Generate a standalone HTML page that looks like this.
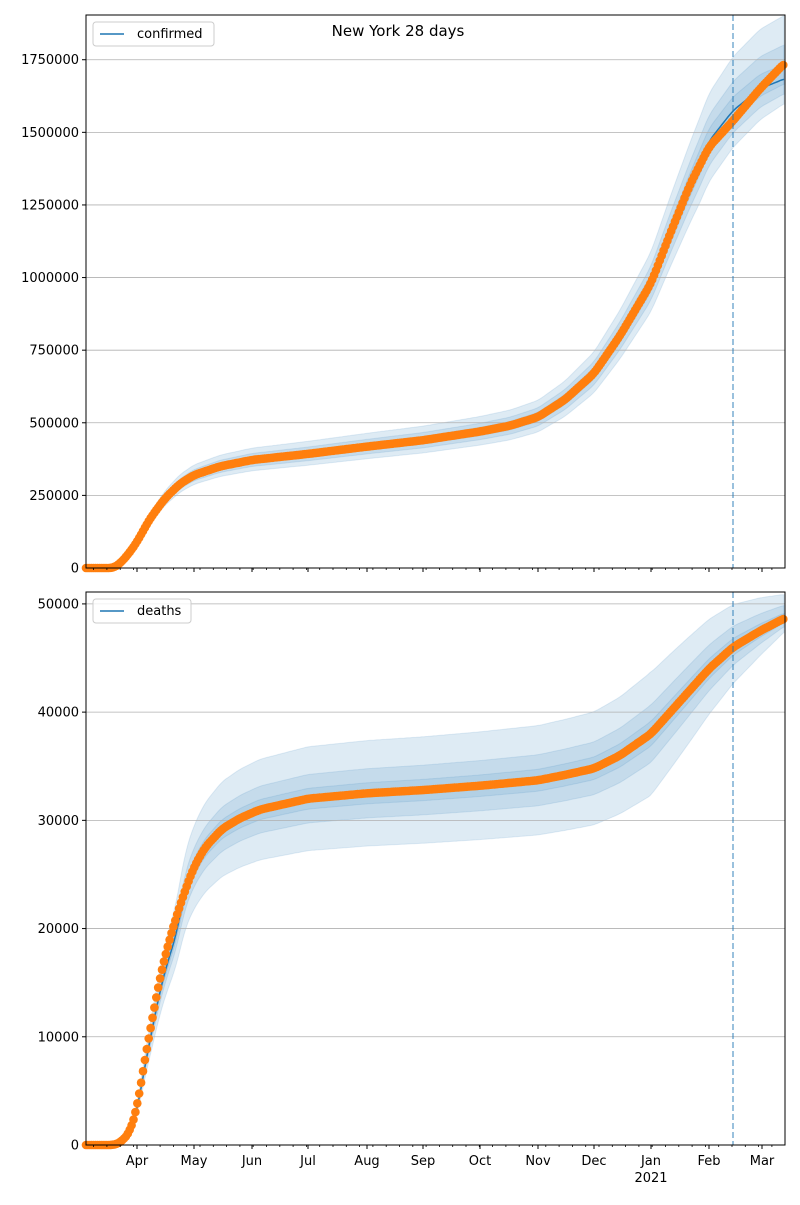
<!DOCTYPE html>
<html><head><meta charset="utf-8"><style>
body{margin:0;background:#fff}
svg text{font-family:"DejaVu Sans","Liberation Sans",sans-serif;font-size:13px;fill:#000}
</style></head><body>
<svg id="s" width="800" height="1200" xmlns="http://www.w3.org/2000/svg"></svg>
<script>
const S=document.getElementById('s');let h='';
function interp(pts,x){for(let i=1;i<pts.length;i++){if(x<=pts[i][0]){const a=pts[i-1],b=pts[i];const f=(x-a[0])/(b[0]-a[0]);return a[1]+(b[1]-a[1])*f;}}return pts[pts.length-1][1];}
function smooth(pts,x){let s=0,n=0;for(let d=-4;d<=4;d+=2){s+=interp(pts,Math.min(785,Math.max(86,x+d)));n++;}return s/n;}
function panel(top,bot,max,ticks,data,model,bandf,label,legW){
 const Y=v=>bot-(v/max)*(bot-top);
 const cols=[[bandf[0],0.11],[bandf[1],0.13],[bandf[2],0.15]];
 for(const [bf,op] of cols){let up='',lo='';
  for(let x=86;x<=785;x+=2){const m=smooth(model,x);const w=bf(x);up+=(up?'L':'M')+x+','+Y(m*(1+w[1])).toFixed(1);lo='L'+x+','+Y(m*(1-w[0])).toFixed(1)+lo;}
  h+=`<path d="${up}${lo}Z" fill="#1f77b4" fill-opacity="${op}" stroke="#1f77b4" stroke-opacity="0.12"/>`;}
 for(const t of ticks){const y=Y(t);h+=`<line x1="86" x2="785" y1="${y}" y2="${y}" stroke="#b0b0b0" stroke-width="0.8"/><line x1="82" x2="86" y1="${y}" y2="${y}" stroke="#000"/><text x="79" y="${y+4.5}" text-anchor="end">${t}</text>`;}
 let p='';for(let x=86;x<=785;x+=2){p+=(p?'L':'M')+x+','+Y(smooth(model,x)).toFixed(1);}
 h+=`<path d="${p}" fill="none" stroke="#1f77b4" stroke-width="1.5"/>`;
 for(let x=86;x<=785;x+=1.9){h+=`<circle cx="${x.toFixed(1)}" cy="${Y(smooth(data,x)).toFixed(1)}" r="4.3" fill="#ff7f0e"/>`;}
 h+=`<line x1="733" x2="733" y1="${top}" y2="${bot}" stroke="#1f77b4" stroke-opacity="0.6" stroke-width="1.5" stroke-dasharray="6,3"/>`;
 const months=[137,194,252,308,367,423,480,538,594,651,709,762];
 for(let x=86+7.6;x<785;x+=13.3)h+=`<line x1="${x.toFixed(1)}" x2="${x.toFixed(1)}" y1="${bot}" y2="${bot+2}" stroke="#000" stroke-width="0.8"/>`;
 for(const x of months)h+=`<line x1="${x}" x2="${x}" y1="${bot}" y2="${bot+4}" stroke="#000"/>`;
 h+=`<rect x="86" y="${top}" width="699" height="${bot-top}" fill="none" stroke="#000" stroke-width="1"/>`;
 h+=`<rect x="93" y="${top+7}" width="${legW}" height="24" rx="3" fill="#fff" fill-opacity="0.8" stroke="#ccc"/><line x1="100" x2="124" y1="${top+19}" y2="${top+19}" stroke="#1f77b4" stroke-width="1.5"/><text x="137" y="${top+23}">${label}</text>`;
}
const conf=[[86,0],[113,0],[120,15e3],[130,55e3],[137,90e3],[150,170e3],[165,240e3],[180,290e3],[194,320e3],[220,350e3],[252,372e3],[308,393e3],[367,418e3],[423,440e3],[480,470e3],[510,490e3],[538,520e3],[565,580e3],[594,670e3],[620,800e3],[651,980e3],[670,1150e3],[690,1320e3],[709,1450e3],[733,1540e3],[760,1650e3],[785,1740e3]];
const confM=conf.slice(0,23).concat([[709,1470e3],[733,1575e3],[760,1650e3],[785,1685e3]]);
const ce=(a,b,x)=>x<700?a:a+(b-a)*(x-700)/85;
panel(15,568,1904000,[0,250000,500000,750000,1000000,1250000,1500000,1750000],conf,confM,
 [x=>[ce(0.03,0.01,x),ce(0.03,0.03,x)],x=>[ce(0.06,0.03,x),ce(0.06,0.07,x)],x=>[ce(0.1,0.05,x),ce(0.11,0.13,x)]],'confirmed',121);
const dth=[[86,0],[113,0],[120,200],[130,1200],[137,3400],[145,8000],[152,11500],[160,15500],[168,18500],[176,21000],[185,23500],[194,25700],[205,27500],[222,29200],[240,30200],[260,31000],[308,32000],[367,32500],[423,32800],[480,33200],[538,33700],[565,34200],[594,34800],[620,36000],[651,38000],[680,41000],[709,44000],[733,46000],[760,47500],[785,48700]];
const dthM=dth.map(p=>p[0]>=130&&p[0]<=176?[p[0],p[1]*0.92]:p);
const taper=(a,b,x)=>x<650?a:a+(b-a)*(x-650)/135;
panel(592,1145,51100,[0,10000,20000,30000,40000,50000],dth,dthM,
 [x=>[taper(0.03,0.008,x),taper(0.03,0.01,x)],x=>[taper(0.07,0.015,x),taper(0.07,0.025,x)],x=>[taper(0.15,0.025,x),taper(0.15,0.045,x)]],'deaths',98);
h+=`<text x="398" y="36" text-anchor="middle" style="font-size:15px">New York 28 days</text>`;
const ml=['Apr','May','Jun','Jul','Aug','Sep','Oct','Nov','Dec','Jan','Feb','Mar'],mx=[137,194,252,308,367,423,480,538,594,651,709,762];
ml.forEach((m,i)=>h+=`<text x="${mx[i]}" y="1165" text-anchor="middle">${m}</text>`);
h+=`<text x="651" y="1182" text-anchor="middle">2021</text>`;
S.innerHTML=h;
</script>
</body></html>
